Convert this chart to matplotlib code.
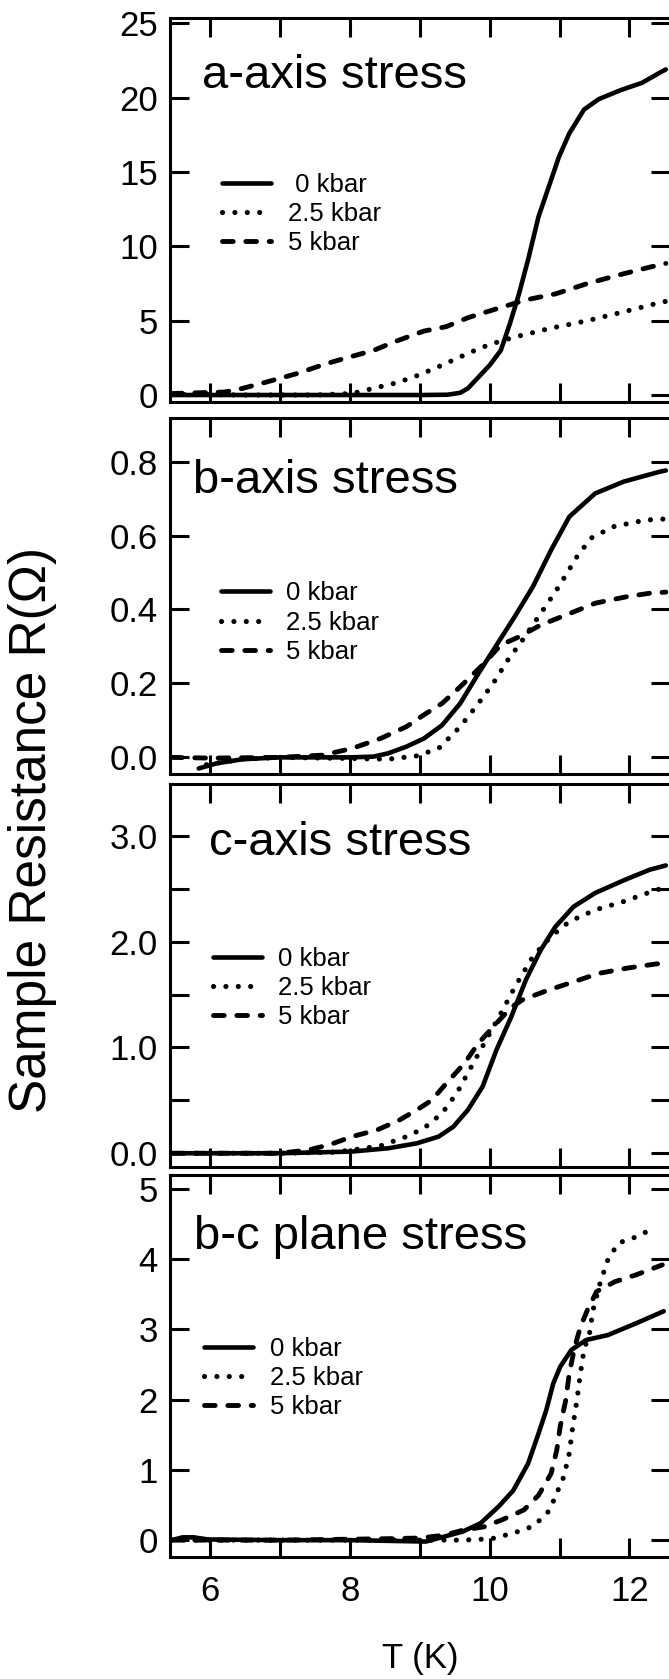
import matplotlib
matplotlib.use('Agg')
import matplotlib.pyplot as plt
from matplotlib.ticker import MultipleLocator, FuncFormatter

plt.rcParams['font.family'] = ['Liberation Sans', 'DejaVu Sans']

# ---------------- data (T in K, R in Ohm) ----------------
labels = [' 0 kbar', '2.5 kbar', '5 kbar']
labels_plain = ['0 kbar', '2.5 kbar', '5 kbar']
titles = ['a-axis stress', 'b-axis stress', 'c-axis stress', 'b-c plane stress']

a_T0 = [5.45, 6.0, 7.0, 8.0, 9.0, 9.4, 9.58, 9.69, 9.84, 10.0, 10.16, 10.29, 10.42, 10.55,
        10.7, 10.86, 10.99, 11.14, 11.35, 11.56, 11.87, 12.18, 12.44, 12.52]
a_R0 = [0.0, 0.0, 0.0, 0.0, 0.0, 0.02, 0.15, 0.45, 1.2, 2.0, 3.0, 4.8, 6.8, 9.1,
        12.0, 14.2, 16.0, 17.6, 19.2, 19.9, 20.5, 21.0, 21.7, 21.9]
a_T25 = [5.45, 6.5, 7.5, 8.03, 8.34, 8.65, 8.91, 9.22, 9.48, 9.74, 10.0, 10.36, 10.88,
         11.4, 11.92, 12.34, 12.52]
a_R25 = [0.05, 0.0, 0.0, 0.1, 0.45, 0.8, 1.2, 1.8, 2.35, 2.9, 3.4, 3.9, 4.5,
         5.0, 5.6, 6.1, 6.3]
a_T5 = [5.45, 6.21, 6.47, 6.83, 7.25, 7.66, 8.03, 8.34, 8.65, 9.06, 9.38, 9.69, 10.1,
        10.52, 10.94, 11.4, 11.87, 12.29, 12.52]
a_R5 = [0.1, 0.2, 0.45, 0.9, 1.45, 2.1, 2.6, 3.0, 3.6, 4.3, 4.6, 5.2, 5.8,
        6.4, 6.8, 7.5, 8.1, 8.6, 8.85]

b_T0 = [5.84, 6.1, 6.47, 7.0, 8.0, 8.34, 8.55, 8.81, 9.06, 9.32, 9.58, 9.84, 10.1, 10.36,
        10.62, 10.88, 11.14, 11.51, 11.92, 12.44, 12.52]
b_R0 = [-0.03, -0.016, -0.005, 0.0, 0.0, 0.002, 0.011, 0.029, 0.051, 0.087, 0.146, 0.227,
        0.304, 0.381, 0.462, 0.561, 0.651, 0.714, 0.746, 0.773, 0.776]
b_T25 = [5.95, 6.47, 7.0, 8.0, 8.55, 8.96, 9.27, 9.58, 9.84, 10.05, 10.26, 10.47, 10.78,
         10.99, 11.25, 11.45, 11.77, 12.23, 12.52]
b_R25 = [-0.02, -0.005, 0.0, -0.003, -0.005, 0.004, 0.024, 0.083, 0.146, 0.2, 0.263, 0.317,
         0.403, 0.462, 0.543, 0.593, 0.624, 0.642, 0.645]
b_T5 = [5.45, 6.0, 7.0, 7.61, 8.03, 8.44, 8.81, 9.06, 9.32, 9.58, 9.9, 10.16, 10.42, 10.73,
        11.09, 11.51, 11.97, 12.29, 12.52]
b_R5 = [0.0, -0.002, 0.0, 0.006, 0.024, 0.051, 0.083, 0.115, 0.146, 0.191, 0.25, 0.304,
        0.326, 0.358, 0.385, 0.417, 0.435, 0.444, 0.447]

c_T0 = [5.45, 7.0, 8.03, 8.55, 8.96, 9.27, 9.48, 9.69, 9.9, 10.1, 10.31, 10.52, 10.73,
        10.94, 11.2, 11.51, 11.92, 12.29, 12.52]
c_R0 = [0.0, 0.0, 0.016, 0.047, 0.094, 0.157, 0.25, 0.41, 0.63, 0.98, 1.29, 1.64, 1.92,
        2.14, 2.33, 2.46, 2.58, 2.68, 2.72]
c_T25 = [5.45, 7.0, 7.77, 8.03, 8.44, 8.81, 9.06, 9.32, 9.53, 9.74, 9.95, 10.16, 10.36,
         10.62, 10.88, 11.14, 11.51, 11.92, 12.39, 12.52]
c_R25 = [0.0, 0.0, 0.01, 0.03, 0.07, 0.157, 0.236, 0.378, 0.567, 0.82, 1.07, 1.32, 1.57,
         1.86, 2.05, 2.19, 2.3, 2.38, 2.49, 2.51]
c_T5 = [5.45, 7.0, 7.4, 7.71, 8.03, 8.39, 8.7, 8.96, 9.17, 9.38, 9.64, 9.84, 10.1, 10.31,
        10.47, 10.83, 11.2, 11.56, 11.97, 12.39, 12.52]
c_R5 = [0.0, 0.0, 0.03, 0.08, 0.157, 0.22, 0.31, 0.41, 0.5, 0.66, 0.85, 1.04, 1.23, 1.38,
        1.45, 1.54, 1.62, 1.7, 1.75, 1.79, 1.8]

d_T0 = [5.45, 5.61, 5.77, 5.97, 7.0, 8.0, 9.09, 9.35, 9.61, 9.87, 10.13, 10.34, 10.55,
        10.7, 10.81, 10.91, 11.01, 11.17, 11.38, 11.69, 12.1, 12.49]
d_R0 = [0.0, 0.04, 0.04, 0.01, 0.0, 0.0, -0.02, 0.05, 0.12, 0.24, 0.48, 0.71, 1.09,
        1.52, 1.85, 2.23, 2.47, 2.71, 2.85, 2.92, 3.09, 3.26]
d_T25 = [5.45, 7.0, 9.0, 9.61, 10.03, 10.34, 10.6, 10.75, 10.86, 10.96, 11.06, 11.14,
         11.19, 11.25, 11.3, 11.35, 11.43, 11.48, 11.58, 11.69, 11.84, 12.1, 12.34]
d_R25 = [0.0, 0.0, 0.0, 0.0, 0.02, 0.1, 0.19, 0.31, 0.43, 0.67, 0.9, 1.24,
         1.62, 2.0, 2.38, 2.71, 2.95, 3.28, 3.66, 3.99, 4.23, 4.32, 4.44]
d_T5 = [5.45, 7.0, 8.5, 9.0, 9.35, 9.61, 9.92, 10.18, 10.49, 10.7, 10.88, 10.96, 11.01,
        11.09, 11.14, 11.22, 11.3, 11.4, 11.53, 11.79, 12.1, 12.47]
d_R5 = [0.0, 0.0, 0.02, 0.03, 0.07, 0.14, 0.19, 0.29, 0.43, 0.64, 0.95, 1.28, 1.62,
        2.0, 2.38, 2.76, 3.04, 3.28, 3.54, 3.68, 3.78, 3.92]

series = [
    [(a_T0, a_R0), (a_T25, a_R25), (a_T5, a_R5)],
    [(b_T0, b_R0), (b_T25, b_R25), (b_T5, b_R5)],
    [(c_T0, c_R0), (c_T25, c_R25), (c_T5, c_R5)],
    [(d_T0, d_R0), (d_T25, d_R25), (d_T5, d_R5)],
]

# ---------------- layout ----------------
W, H = 669, 1679
fig = plt.figure(figsize=(W / 100, H / 100), dpi=100)

LEFT_PX, RIGHT_PX = 170.5, 670.0
panel_px = [(18, 402), (418, 774), (784, 1167), (1175, 1557)]
ylims = [(-0.47, 25.36), (-0.045, 0.918), (-0.13, 3.49), (-0.24, 5.2)]
ymajor = [5, 0.2, 1.0, 1]
yminor = [None, None, 0.5, None]
yfmt = ['{:.0f}', '{:.1f}', '{:.1f}', '{:.0f}']
title_pos = [(0.063, 0.818), (0.045, 0.789), (0.077, 0.815), (0.047, 0.806)]
legend_pos = [(0.104, 0.596), (0.101, 0.541), (0.085, 0.575), (0.068, 0.577)]

styles = [
    dict(linestyle='-', lw=3.3, solid_capstyle='round', solid_joinstyle='round'),
    dict(linestyle=(0, (0.01, 2.4)), lw=3.7, dash_capstyle='round'),
    dict(linestyle=(0, (2.2, 2.6)), lw=3.5, dash_capstyle='round'),
]

TICK_LEN = 13.5
TICK_W = 2.2
SPINE_W = 2.2
TICK_FS = 25

axes = []
for i, (top, bot) in enumerate(panel_px):
    ax = fig.add_axes([LEFT_PX / W, 1 - bot / H, (RIGHT_PX - LEFT_PX) / W, (bot - top) / H])
    axes.append(ax)
    for j, (T, Rv) in enumerate(series[i]):
        lab = labels[j] if i == 0 else labels_plain[j]
        ax.plot(T, Rv, color='black', label=lab, **styles[j])
    ax.set_xlim(5.436, 12.58)
    ax.set_ylim(*ylims[i])
    ax.xaxis.set_major_locator(MultipleLocator(2))
    ax.xaxis.set_minor_locator(MultipleLocator(1))
    ax.yaxis.set_major_locator(MultipleLocator(ymajor[i]))
    if yminor[i] is not None:
        ax.yaxis.set_minor_locator(MultipleLocator(yminor[i]))
    else:
        ax.yaxis.set_minor_locator(plt.NullLocator())
    f = yfmt[i]
    ax.yaxis.set_major_formatter(FuncFormatter(lambda v, p, f=f: f.format(v)))
    ax.tick_params(axis='both', which='both', direction='in', top=True, right=True,
                   length=TICK_LEN, width=TICK_W, labelsize=TICK_FS, colors='black')
    ax.tick_params(axis='y', which='both', pad=9.0)
    ax.tick_params(axis='x', which='both', pad=13)
    if i < 3:
        ax.tick_params(axis='x', which='both', labelbottom=False)
    for s in ax.spines.values():
        s.set_linewidth(SPINE_W)
        s.set_color('black')
    ax.text(title_pos[i][0], title_pos[i][1], titles[i], transform=ax.transAxes,
            fontsize=34, ha='left', va='baseline', color='black')
    ax.legend(loc='upper left', bbox_to_anchor=legend_pos[i], frameon=False,
              fontsize=18.5, handlelength=1.9, handletextpad=0.65,
              labelspacing=0.2, borderpad=0.0, borderaxespad=0.0)

fig.text(33 / W, 1 - 830 / H, 'Sample Resistance R(Ω)', rotation=90,
         ha='center', va='center', fontsize=37, color='black')
fig.text(420 / W, 1 - 1668 / H, 'T (K)', ha='center', va='baseline',
         fontsize=25, color='black')

fig.savefig('out.png', dpi=100, facecolor='white')
